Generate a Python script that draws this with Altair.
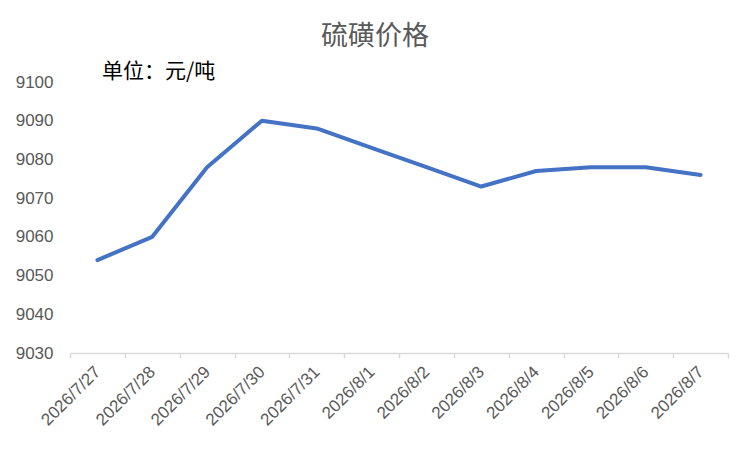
import altair as alt
import pandas as pd

dates = ["2026/7/27", "2026/7/28", "2026/7/29", "2026/7/30", "2026/7/31", "2026/8/1",
         "2026/8/2", "2026/8/3", "2026/8/4", "2026/8/5", "2026/8/6", "2026/8/7"]
prices = [9054, 9060, 9078, 9090, 9088, 9083, 9078, 9073, 9077, 9078, 9078, 9076]
y_ticks = [9030, 9040, 9050, 9060, 9070, 9080, 9090, 9100]

df = pd.DataFrame({"date": dates, "price": prices})

GRAY = "#595959"
FONT = "Liberation Sans"

line = alt.Chart(df).mark_line(color="#4472C4", strokeWidth=4, strokeJoin="round", strokeCap="round").encode(
    x=alt.X("date:N", sort=dates, bandPosition=0.5,
            scale=alt.Scale(type="band", paddingInner=0, paddingOuter=0),
            axis=alt.Axis(title=None, labelAngle=-45, labelAlign="right", labelBaseline="middle",
                          labelFontSize=17, labelColor=GRAY, labelFont=FONT, labelPadding=11,
                          tickBand="extent", ticks=True, tickSize=5, tickColor="#d9d9d9",
                          domainColor="#d9d9d9", domainWidth=1.5, tickWidth=1.5, grid=False,
                          labelOverlap=False)),
    y=alt.Y("price:Q", scale=alt.Scale(domain=[9030, 9100], nice=False, zero=False),
            axis=alt.Axis(title=None, values=y_ticks, grid=False, domain=False, ticks=False, format="d",
                          labelFontSize=17, labelColor=GRAY, labelFont=FONT, labelPadding=17)),
)

unit = alt.Chart(pd.DataFrame({"t": ["单位：元/吨"]})).mark_text(
    align="left", baseline="middle", fontSize=21, font="Noto Sans CJK SC", color="#000000"
).encode(text="t:N", x=alt.value(32), y=alt.value(-10))

title = alt.Chart(pd.DataFrame({"t": ["硫磺价格"]})).mark_text(
    align="center", baseline="middle", fontSize=27, font="Noto Sans CJK SC", color=GRAY
).encode(text="t:N", x=alt.value(305), y=alt.value(-45))

chart = alt.layer(line, unit, title).properties(
    width=658, height=271,
    autosize=alt.AutoSizeParams(type="none"),
    padding={"left": 62, "top": 74, "right": 8, "bottom": 90},
    background="white",
).configure_view(stroke=None)

chart.save("out.html", embed_options={"renderer": "svg", "actions": False})
